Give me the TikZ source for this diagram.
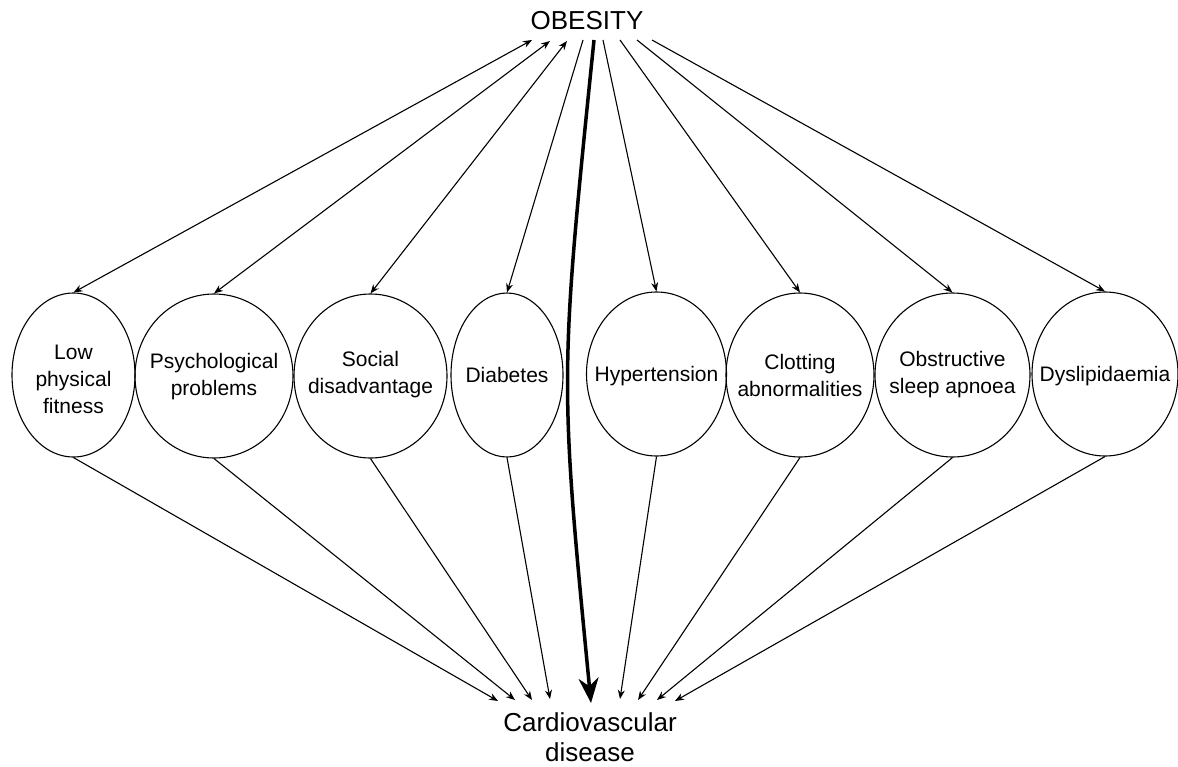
\documentclass[tikz,border=0pt]{standalone}
\usepackage{fontspec}
\setmainfont{Liberation Sans}
\usetikzlibrary{shapes.geometric,arrows.meta}
\begin{document}
\begin{tikzpicture}[x=1pt,y=-1pt,
  factor/.style={ellipse,draw,line width=1.1pt,inner sep=0pt,minimum height=164pt},
  ftext/.style={align=center,inner sep=0pt,font=\fontsize{21}{27}\selectfont},
  big/.style={align=center,inner sep=0pt,font=\fontsize{26}{30}\selectfont},
  tip/.style={Stealth[length=9pt,width=7pt]},
  link/.style={line width=1.1pt,-{Stealth[length=9pt,width=7pt]}},
  both/.style={line width=1.1pt,{Stealth[length=9pt,width=7pt]}-{Stealth[length=9pt,width=7pt]}},
  main/.style={line width=3.5pt,-{Stealth[length=25pt,width=20pt]}}]
\useasboundingbox (0,0) rectangle (1178,766);
% main texts
\node[big] (ob) at (587,21) {OBESITY};
\node[big] (cvd) at (590,737) {Cardiovascular\\disease};
% ellipses
\node[factor,minimum width=123pt] (lpf) at (73.5,375) {};
\node[factor,minimum width=158pt] (psy) at (214,376) {};
\node[factor,minimum width=153pt] (soc) at (370.5,376) {};
\node[factor,minimum width=112pt] (dia) at (507,375) {};
\node[factor,minimum width=140pt] (hyp) at (656.5,374) {};
\node[factor,minimum width=148pt] (clo) at (800,375) {};
\node[factor,minimum width=155pt] (osa) at (952.5,375) {};
\node[factor,minimum width=146pt] (dys) at (1105,374) {};
% texts in ellipses
\node[ftext] (lpf-t) at (73.5,379) {Low\\physical\\fitness};
\node[ftext] (psy-t) at (214,377) {Psychological\\problems};
\node[ftext] (soc-t) at (370.5,375) {Social\\disadvantage};
\node[ftext] (dia-t) at (507,375) {Diabetes};
\node[ftext] (hyp-t) at (656.5,376) {Hypertension};
\node[ftext] (clo-t) at (800,375) {Clotting\\abnormalities};
\node[ftext] (osa-t) at (952.5,375) {Obstructive\\sleep apnoea};
\node[ftext] (dys-t) at (1105,376) {Dyslipidaemia};
% end points under OBESITY
\coordinate (o1) at (532,40);
\coordinate (o2) at (550,41);
\coordinate (o3) at (567,41);
\coordinate (o4) at (583,40);
\coordinate (om) at (594,40);
\coordinate (o5) at (603,40);
\coordinate (o6) at (620,40);
\coordinate (o7) at (637,40);
\coordinate (o8) at (652,40);
% end points above Cardiovascular disease
\coordinate (c1) at (498,701);
\coordinate (c2) at (515,700);
\coordinate (c3) at (532,700);
\coordinate (c4) at (550,699);
\coordinate (cm) at (591,703);
\coordinate (c5) at (620,699);
\coordinate (c6) at (638,700);
\coordinate (c7) at (657,700);
\coordinate (c8) at (675,701);
% obesity <-> factors
\draw[both] (lpf.north) -- (o1);
\draw[both] (psy.north) -- (o2);
\draw[both] (soc.north) -- (o3);
\draw[link] (o4) -- (dia.north);
\draw[link] (o5) -- (hyp.north);
\draw[link] (o6) -- (clo.north);
\draw[link] (o7) -- (osa.north);
\draw[link] (o8) -- (dys.north);
% factors -> cvd
\draw[link] (lpf.south) -- (c1);
\draw[link] (psy.south) -- (c2);
\draw[link] (soc.south) -- (c3);
\draw[link] (dia.south) -- (c4);
\draw[link] (hyp.south) -- (c5);
\draw[link] (clo.south) -- (c6);
\draw[link] (osa.south) -- (c7);
\draw[link] (dys.south) -- (c8);
% main thick arrow
\draw[main] (om) .. controls (559.5,378) .. (cm);
\end{tikzpicture}
\end{document}
